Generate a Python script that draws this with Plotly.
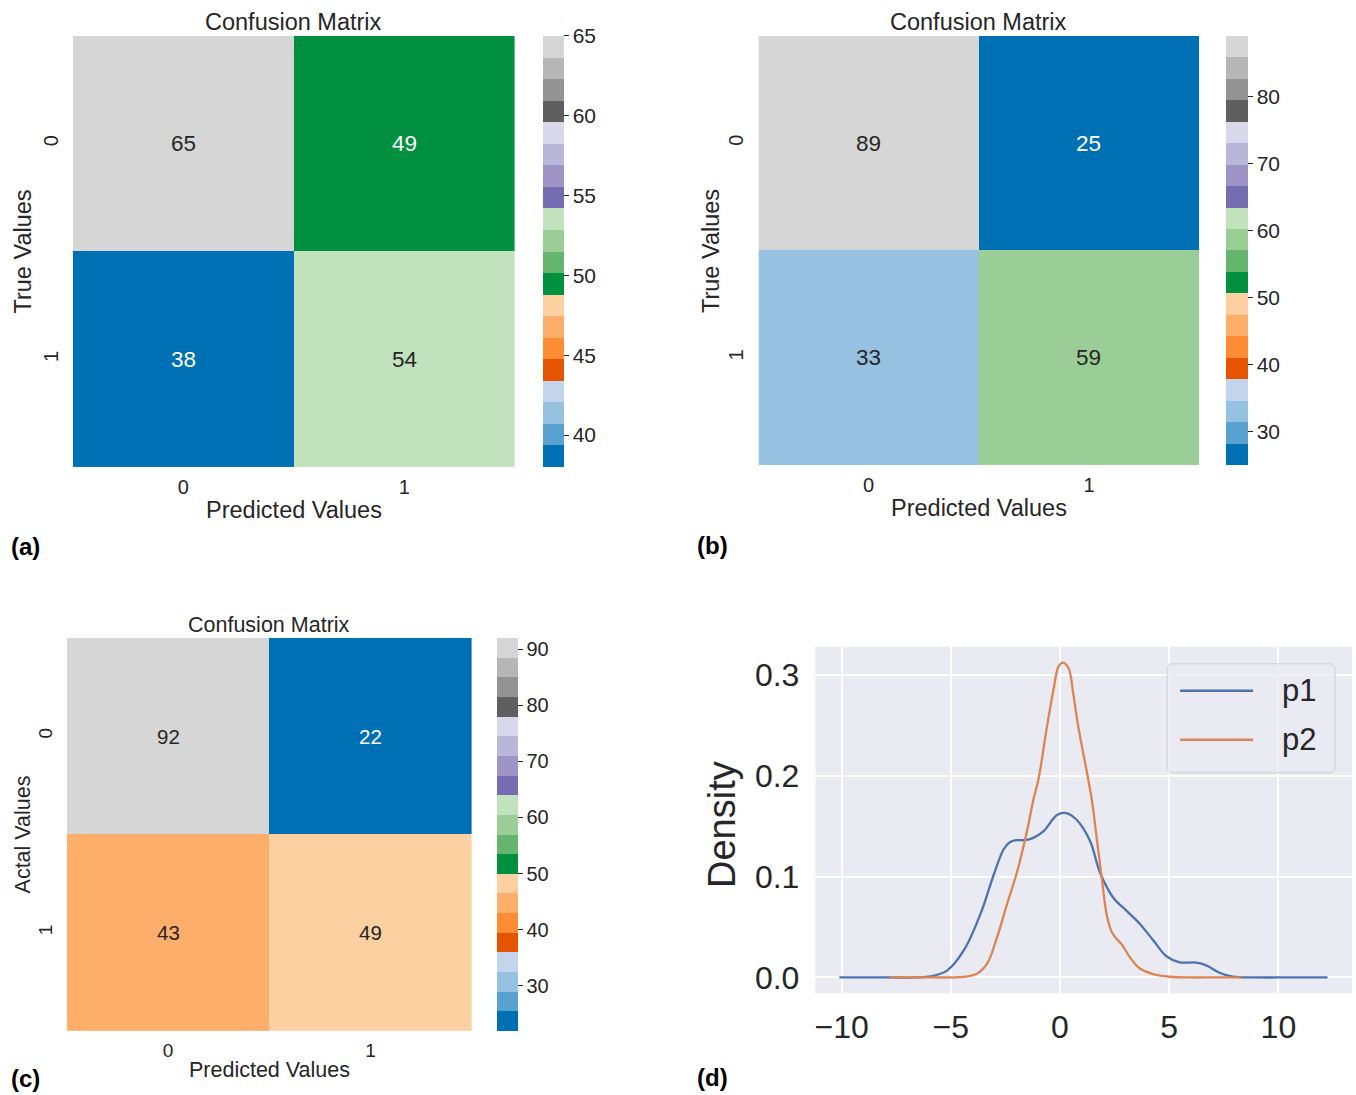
import plotly.graph_objects as go

W, H = 1356, 1095
FONT = "Arial, Liberation Sans, sans-serif"
TEXT = "#262626"

# 20-step qualitative palette (blue, orange, green, purple, grey groups)
PALETTE = ["#0070b4", "#58a1d0", "#96c1e0", "#c3d5ec",
           "#e55400", "#fd8c35", "#fdae6b", "#fdd0a2",
           "#009040", "#65b56e", "#9bce96", "#c2e1bd",
           "#756bb1", "#9e95c6", "#b8b6d9", "#d9d7ea",
           "#5f5f5f", "#939393", "#b6b6b6", "#d6d6d6"]

classes = ["0", "1"]
cm_a = [[65, 49], [38, 54]]
cm_b = [[89, 25], [33, 59]]
cm_c = [[92, 22], [43, 49]]
cbar_ticks_a = [40, 45, 50, 55, 60, 65]
cbar_ticks_b = [30, 40, 50, 60, 70, 80]
cbar_ticks_c = [30, 40, 50, 60, 70, 80, 90]

# kernel density estimates of the two prediction sets
p1_x = [-10.1, -8.0, -6.5, -5.92, -5.16, -4.40, -3.64, -3.03, -2.58, -2.30,
        -2.00, -1.60, -1.25, -0.75, -0.14, 0.24, 0.77, 1.38, 1.83, 2.44,
        3.05, 3.66, 4.26, 4.87, 5.48, 6.24, 6.70, 7.30, 7.91, 9.0, 10.5, 12.25]
p1_y = [0.0, 0.0, 0.0, 0.001, 0.007, 0.027, 0.063, 0.102, 0.127, 0.134,
        0.136, 0.136, 0.138, 0.145, 0.161, 0.163, 0.156, 0.135, 0.104, 0.079,
        0.066, 0.053, 0.037, 0.021, 0.015, 0.0147, 0.012, 0.0046, 0.0007, 0.0, 0.0, 0.0]
p2_x = [-7.8, -6.0, -5.0, -4.40, -3.79, -3.33, -2.88, -2.42, -1.96, -1.51,
        -1.21, -0.98, -0.60, -0.30, -0.07, 0.13, 0.39, 0.62, 0.84, 1.45,
        1.68, 1.91, 2.14, 2.37, 2.60, 2.82, 3.20, 3.66, 4.26,
        5.02, 6.0, 7.0, 8.3]
p2_y = [0.0, 0.0, 0.0, 0.0005, 0.004, 0.014, 0.040, 0.073, 0.105, 0.145,
        0.177, 0.197, 0.248, 0.285, 0.308, 0.312, 0.3066, 0.279, 0.248, 0.177,
        0.138, 0.099, 0.062, 0.045, 0.038, 0.033, 0.020, 0.0088, 0.0033,
        0.0007, 0.0, 0.0, 0.0]
density_xticks = [-10, -5, 0, 5, 10]
density_yticks = [0.0, 0.1, 0.2, 0.3]
series_names = ["p1", "p2"]
series_colors = ["#4c72b0", "#dd8452"]


def px(x):
    return x / W


def py(y):
    return 1 - y / H


def stepped_scale(colors):
    n = len(colors)
    scale = []
    for i, c in enumerate(colors):
        lo = i / n
        hi = 1.0 if i == n - 1 else (i + 1) / n - 1e-9
        scale.append([lo, c])
        scale.append([hi, c])
    return scale


def luminance(hex_color):
    vals = []
    for k in (1, 3, 5):
        v = int(hex_color[k:k + 2], 16) / 255
        v = v / 12.92 if v <= 0.03928 else ((v + 0.055) / 1.055) ** 2.4
        vals.append(v)
    return 0.2126 * vals[0] + 0.7152 * vals[1] + 0.0722 * vals[2]


def cell_color(v, zmin, zmax):
    idx = int((v - zmin) / (zmax - zmin) * len(PALETTE))
    return PALETTE[min(max(idx, 0), len(PALETTE) - 1)]


fig = go.Figure()
annotations = []
shapes = []
layout_axes = {}

panels = [
    dict(cm=cm_a, ticks=cbar_ticks_a, box=(72, 36, 514, 468), cbar=(542, 563),
         ylabel="True Values", fs=23.5, tfs=20, cfs=21, n=1,
         title_y=22, xlab_y=511, ylab_x=22),
    dict(cm=cm_b, ticks=cbar_ticks_b, box=(758, 36, 1199, 466), cbar=(1226, 1248),
         ylabel="True Values", fs=23.5, tfs=20, cfs=21, n=2,
         title_y=22, xlab_y=509, ylab_x=710),
    dict(cm=cm_c, ticks=cbar_ticks_c, box=(66, 639, 471, 1033), cbar=(496, 517),
         ylabel="Actal Values", fs=21.5, tfs=19, cfs=20, n=3,
         title_y=626, xlab_y=1072, ylab_x=22),
]

for p in panels:
    cm = p["cm"]
    n = p["n"]
    x0, y0, x1, y1 = p["box"]
    zmin = min(min(r) for r in cm)
    zmax = max(max(r) for r in cm)
    xa, ya = f"x{n}", f"y{n}"
    fig.add_trace(go.Heatmap(
        z=cm, x=[0, 1], y=[0, 1], xaxis=xa, yaxis=ya,
        zmin=zmin, zmax=zmax, colorscale=stepped_scale(PALETTE),
        hoverinfo="skip",
        colorbar=dict(
            x=px(p["cbar"][0]), xanchor="left", xpad=0, ypad=0,
            thickness=p["cbar"][1] - p["cbar"][0], thicknessmode="pixels",
            y=py(y0), yanchor="top", len=(y1 - y0) / H, lenmode="fraction",
            outlinewidth=0, tickvals=p["ticks"], ticks="outside", ticklen=5,
            tickwidth=1, tickcolor=TEXT,
            tickfont=dict(family=FONT, size=p["cfs"], color=TEXT),
        ),
    ))
    key = "" if n == 1 else str(n)
    layout_axes[f"xaxis{key}"] = dict(
        domain=[px(x0), px(x1)], anchor=ya, range=[-0.5, 1.5],
        tickvals=[0, 1], ticktext=classes, showgrid=False, zeroline=False,
        showline=False, ticks="", ticklabelstandoff=6,
        tickfont=dict(family=FONT, size=p["tfs"], color=TEXT),
    )
    layout_axes[f"yaxis{key}"] = dict(
        domain=[py(y1), py(y0)], anchor=xa, range=[1.5, -0.5],
        tickvals=[0, 1], ticktext=classes, tickangle=-90, showgrid=False,
        zeroline=False, showline=False, ticks="", ticklabelstandoff=10,
        tickfont=dict(family=FONT, size=p["tfs"], color=TEXT),
    )
    for i, row in enumerate(cm):
        for j, v in enumerate(row):
            c = cell_color(v, zmin, zmax)
            tc = TEXT if luminance(c) > 0.408 else "white"
            annotations.append(dict(
                x=j, y=i, xref=xa, yref=ya, text=str(v), showarrow=False,
                font=dict(family=FONT, size=p["fs"] - 1, color=tc)))
    cx = (x0 + x1) / 2
    annotations.append(dict(
        x=px(cx), y=py(p["title_y"]), xref="paper", yref="paper",
        text="Confusion Matrix", showarrow=False, xanchor="center", yanchor="middle",
        font=dict(family=FONT, size=p["fs"], color=TEXT)))
    annotations.append(dict(
        x=px(cx), y=py(p["xlab_y"]), xref="paper", yref="paper",
        text="Predicted Values", showarrow=False, xanchor="center", yanchor="middle",
        font=dict(family=FONT, size=p["fs"], color=TEXT)))
    annotations.append(dict(
        x=px(p["ylab_x"]), y=py((y0 + y1) / 2), xref="paper", yref="paper",
        text=p["ylabel"], showarrow=False, textangle=-90,
        xanchor="center", yanchor="middle",
        font=dict(family=FONT, size=p["fs"], color=TEXT)))

# density panel
dx0, dy0, dx1, dy1 = 815, 648, 1352, 995
for name, xs, ys, col in zip(series_names, [p1_x, p2_x], [p1_y, p2_y], series_colors):
    fig.add_trace(go.Scatter(
        x=xs, y=ys, name=name, mode="lines", xaxis="x4", yaxis="y4",
        line=dict(color=col, width=2.3, shape="spline", smoothing=1.0),
        showlegend=False, hoverinfo="skip"))

layout_axes["xaxis4"] = dict(
    domain=[px(dx0), px(dx1)], anchor="y4", range=[-11.2, 13.37],
    tickvals=density_xticks, ticktext=["\u221210", "\u22125", "0", "5", "10"],
    showgrid=True, gridcolor="white", gridwidth=1.5, zeroline=False,
    showline=False, ticks="", ticklabelstandoff=12,
    tickfont=dict(family=FONT, size=32, color=TEXT))
layout_axes["yaxis4"] = dict(
    domain=[py(dy1), py(dy0)], anchor="x4", range=[-0.0156, 0.3276],
    tickvals=density_yticks, tickformat=".1f",
    showgrid=True, gridcolor="white", gridwidth=1.5, zeroline=False,
    showline=False, ticks="", ticklabelstandoff=15,
    tickfont=dict(family=FONT, size=32, color=TEXT))

shapes.append(dict(type="rect", xref="paper", yref="paper",
                   x0=px(dx0), x1=px(dx1), y0=py(dy1), y1=py(dy0),
                   fillcolor="#eaeaf2", line=dict(width=0), layer="below"))

annotations.append(dict(
    x=px(722), y=py(826), xref="paper", yref="paper", text="Density",
    showarrow=False, textangle=-90, xanchor="center", yanchor="middle",
    font=dict(family=FONT, size=38, color=TEXT)))

# legend box with rounded corners
lx0, lx1, ly0, ly1 = 1167, 1335, 665, 774
r = 6
legend_path = (
    f"M {px(lx0 + r)},{py(ly0)} L {px(lx1 - r)},{py(ly0)} "
    f"Q {px(lx1)},{py(ly0)} {px(lx1)},{py(ly0 + r)} "
    f"L {px(lx1)},{py(ly1 - r)} Q {px(lx1)},{py(ly1)} {px(lx1 - r)},{py(ly1)} "
    f"L {px(lx0 + r)},{py(ly1)} Q {px(lx0)},{py(ly1)} {px(lx0)},{py(ly1 - r)} "
    f"L {px(lx0)},{py(ly0 + r)} Q {px(lx0)},{py(ly0)} {px(lx0 + r)},{py(ly0)} Z")
shapes.append(dict(type="path", xref="paper", yref="paper", path=legend_path,
                   fillcolor="rgba(234,234,242,0.8)", line=dict(color="#d0d0d8", width=1)))
for k, (name, col) in enumerate(zip(series_names, series_colors)):
    yy = 692 + k * 49
    shapes.append(dict(type="line", xref="paper", yref="paper",
                       x0=px(1180), x1=px(1253), y0=py(yy), y1=py(yy),
                       line=dict(color=col, width=2.5)))
    annotations.append(dict(
        x=px(1280), y=py(yy), xref="paper", yref="paper", text=name,
        showarrow=False, xanchor="left", yanchor="middle",
        font=dict(family=FONT, size=31, color=TEXT)))

# panel letters
for letter, (lx, ly) in zip(["(a)", "(b)", "(c)", "(d)"],
                            [(8, 548), (695, 546), (8, 1080), (695, 1079)]):
    annotations.append(dict(
        x=px(lx), y=py(ly), xref="paper", yref="paper", text=f"<b>{letter}</b>",
        showarrow=False, xanchor="left", yanchor="middle",
        font=dict(family="Liberation Sans, Arial, sans-serif", size=24, color="black")))

fig.update_layout(
    width=W, height=H, margin=dict(l=0, r=0, t=0, b=0),
    paper_bgcolor="white", plot_bgcolor="rgba(0,0,0,0)",
    annotations=annotations, shapes=shapes, showlegend=False,
    **layout_axes)

fig.write_html("out.html")
